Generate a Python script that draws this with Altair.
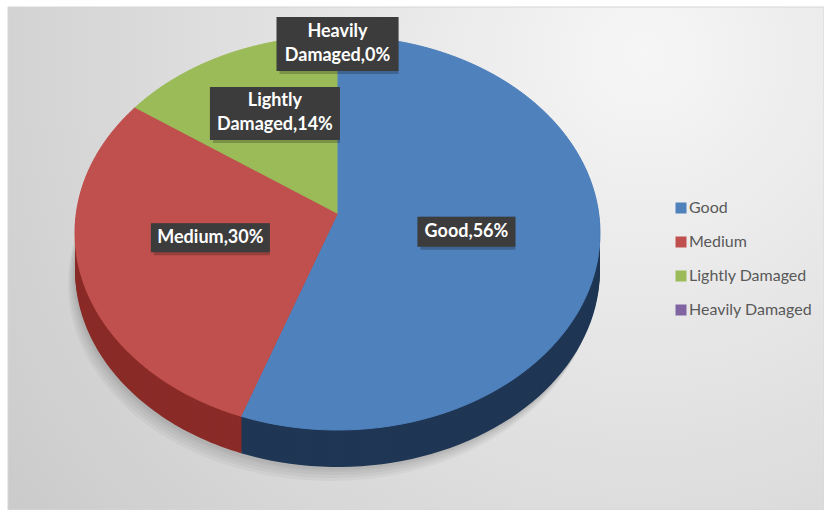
import altair as alt
import pandas as pd

# ---- data ----
categories = ["Good", "Medium", "Lightly Damaged", "Heavily Damaged"]
values = [56, 30, 14, 0]
label_texts = ["Good,56%", "Medium,30%", "Lightly\nDamaged,14%", "Heavily\nDamaged,0%"]

# ---- styling ----
top_colors = ["#4F81BD", "#C0504D", "#9BBB59", "#8064A2"]
side_colors = ["#1F3654", "#8A2B28", "#5E7A2A", "#4B3A63"]
label_radius = [0.5, 0.5, 0.56, 0.86]
box_w = [98, 119, 130, 122]
box_h = [30, 29, 53, 54]

W, H = 824, 510
X_RANGE = [75, 600]
Y_RANGE = [430, 36]
A_PX = (X_RANGE[1] - X_RANGE[0]) / 2
B_PX = (Y_RANGE[0] - Y_RANGE[1]) / 2
VERTEX_Y = 0.1
DEPTH = 37
N = 90
LINE_H = 24

df = pd.DataFrame({
    "category": categories,
    "value": values,
    "idx": list(range(len(categories))),
    "label": label_texts,
    "side": side_colors,
    "lr": label_radius,
    "bw": box_w,
    "bh": box_h,
})

xs = alt.Scale(domain=[-1, 1], range=X_RANGE)
ys = alt.Scale(domain=[-1, 1], range=Y_RANGE)


def base():
    return (
        alt.Chart(df)
        .transform_joinaggregate(total="sum(value)")
        .transform_window(cum="sum(value)", sort=[alt.SortField("idx")], frame=[None, 0])
        .transform_calculate(
            a0="(datum.cum - datum.value) / datum.total * 2 * PI",
            a1="datum.cum / datum.total * 2 * PI",
        )
    )


def poly():
    return (
        base()
        .transform_filter("datum.value > 0")
        .transform_calculate(steps=f"sequence(0, {N + 2})")
        .transform_flatten(["steps"])
        .transform_calculate(t=f"datum.a0 + (datum.a1 - datum.a0) * (datum.steps - 1) / {N}")
        .transform_calculate(
            px="datum.steps == 0 ? 0 : sin(datum.t)",
            py=f"datum.steps == 0 ? {VERTEX_Y} : cos(datum.t)",
        )
    )


pos = dict(
    x=alt.X("px:Q", scale=xs, axis=None),
    y=alt.Y("py:Q", scale=ys, axis=None),
    order="steps:Q",
)

# soft shadow beneath the pie
shadows = []
for s in [14, 11, 8, 5, 3]:
    shadows.append(
        poly().mark_line(filled=True, yOffset=DEPTH + s, xOffset=-s / 2, strokeWidth=0,
                         color="#000000", opacity=0.035).encode(detail="category:N", **pos)
    )

sides = []
for d in range(DEPTH, 0, -2):
    sides.append(
        poly().mark_line(filled=True, yOffset=d, strokeWidth=0).encode(
            color=alt.Color("side:N", scale=None),
            detail="category:N",
            **pos,
        )
    )

top = poly().mark_line(filled=True, strokeWidth=1).encode(
    color=alt.Color(
        "category:N",
        scale=alt.Scale(domain=categories, range=top_colors),
        legend=alt.Legend(
            title=None, orient="none", legendX=673, legendY=200,
            symbolType="square", symbolSize=121, symbolStrokeWidth=0,
            labelFont="Lato", labelFontSize=16, labelColor="#595959",
            rowPadding=18, labelOffset=0, padding=0,
        ),
    ),
    stroke=alt.Stroke("category:N", scale=alt.Scale(domain=categories, range=top_colors), legend=None),
    **pos,
)


def labels():
    return (
        base()
        .transform_calculate(mid="(datum.a0 + datum.a1) / 2")
        .transform_calculate(
            lx="datum.lr * sin(datum.mid)",
            ly=f"{VERTEX_Y} + datum.lr * cos(datum.mid)",
            nlines="length(split(datum.label, '\\n'))",
        )
        .transform_calculate(
            ty=f"datum.ly + (datum.nlines - 1) * {LINE_H / 2} / {B_PX}",
            bx1=f"datum.lx - datum.bw / 2 / {A_PX}",
            bx2=f"datum.lx + datum.bw / 2 / {A_PX}",
            by1=f"datum.ly - datum.bh / 2 / {B_PX}",
            by2=f"datum.ly + datum.bh / 2 / {B_PX}",
        )
    )


box_enc = dict(
    x=alt.X("bx1:Q", scale=xs, axis=None), x2="bx2:Q",
    y=alt.Y("by1:Q", scale=ys, axis=None), y2="by2:Q",
)
box_shadow = labels().mark_rect(color="#000000", opacity=0.22, xOffset=3, yOffset=3).encode(**box_enc)
boxes = labels().mark_rect(color="#3c3c3c").encode(**box_enc)
texts = labels().mark_text(
    font="Lato", fontWeight="bold", fontSize=18, color="white",
    lineBreak="\n", lineHeight=LINE_H, baseline="middle", align="center",
).encode(
    x=alt.X("lx:Q", scale=xs, axis=None),
    y=alt.Y("ty:Q", scale=ys, axis=None),
    text="label:N",
)

bg = alt.Chart(alt.Data(values=[{}])).mark_rect(
    fill=alt.RadialGradient(
        gradient="radial",
        stops=[alt.GradientStop(color="#f6f6f6", offset=0), alt.GradientStop(color="#cbcbcb", offset=1)],
        x1=0.78, y1=0.25, r1=0, x2=0.78, y2=0.25, r2=0.95,
    ),
    stroke="#d6d6d6", strokeWidth=1,
).encode(x=alt.value(8), x2=alt.value(W), y=alt.value(7), y2=alt.value(H))

chart = (
    alt.layer(bg, *shadows, *sides, top, box_shadow, boxes, texts)
    .resolve_scale(color="independent", stroke="independent")
    .properties(width=W, height=H, padding=0, autosize="none", background="white")
    .configure_view(stroke=None)
)

chart.save("out.html", embed_options={"renderer": "svg", "actions": False})
